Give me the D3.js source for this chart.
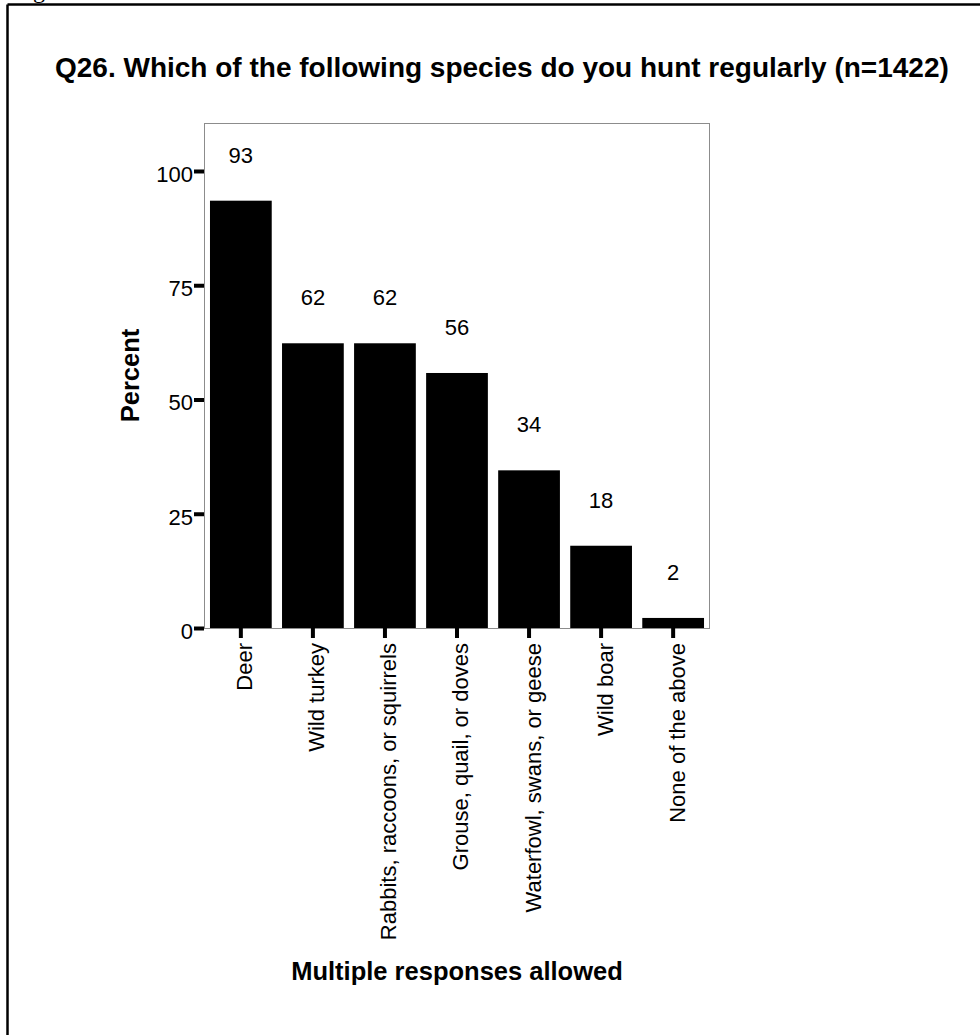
<!DOCTYPE html>
<html>
<head>
<meta charset="utf-8">
<script src="https://cdn.jsdelivr.net/npm/d3@7"></script>
<style>
  html, body { margin: 0; padding: 0; background: #ffffff; }
  svg { display: block; }
  text { font-family: "Liberation Sans", Arial, sans-serif; fill: #000; }
</style>
</head>
<body>
<svg id="chart" width="980" height="1035"></svg>
<script>
// ---- data ----
const categories = [
  "Deer",
  "Wild turkey",
  "Rabbits, raccoons, or squirrels",
  "Grouse, quail, or doves",
  "Waterfowl, swans, or geese",
  "Wild boar",
  "None of the above"
];
const percents = [93.5, 62.3, 62.3, 55.8, 34.5, 18.0, 2.2];
const valueLabels = ["93", "62", "62", "56", "34", "18", "2"];
const yTicks = [0, 25, 50, 75, 100];
const titleText = "Q26. Which of the following species do you hunt regularly (n=1422)";
const yTitle = "Percent";
const xTitle = "Multiple responses allowed";

// ---- layout ----
const svg = d3.select("#chart");
const plot = { left: 204, right: 710, top: 123, bottom: 628 };

const x = d3.scaleBand()
  .domain(categories)
  .range([plot.left, plot.right])
  .paddingInner(0.143)
  .paddingOuter(0.083);

const y = d3.scaleLinear()
  .domain([0, 110.5])
  .range([plot.bottom, plot.top]);

// outer (cropped) frame: only top and left edges visible
svg.append("line").attr("x1", 7.5).attr("x2", 980).attr("y1", 4.5).attr("y2", 4.5)
  .attr("stroke", "#000").attr("stroke-width", 2.5);
svg.append("line").attr("x1", 7.5).attr("x2", 7.5).attr("y1", 4.5).attr("y2", 1035)
  .attr("stroke", "#000").attr("stroke-width", 2.5);

// cropped caption text at top
svg.append("text")
  .attr("x", 13).attr("y", -2)
  .style("font-family", "'Liberation Serif', 'Times New Roman', serif")
  .style("font-size", "24px")
  .text("Figure");

// title
svg.append("text")
  .attr("x", 55).attr("y", 77)
  .style("font-size", "28px").style("font-weight", "bold")
  .text(titleText);

// bars
svg.append("g").selectAll("rect")
  .data(categories)
  .join("rect")
  .attr("x", d => x(d))
  .attr("width", x.bandwidth())
  .attr("y", (d, i) => y(percents[i]))
  .attr("height", (d, i) => y(0) - y(percents[i]))
  .attr("fill", "#000");

// value labels
svg.append("g").selectAll("text")
  .data(categories)
  .join("text")
  .attr("x", d => x(d) + x.bandwidth() / 2)
  .attr("y", (d, i) => y(percents[i]) - 38)
  .attr("text-anchor", "middle")
  .style("font-size", "22px")
  .text((d, i) => valueLabels[i]);

// plot frame
svg.append("rect")
  .attr("x", plot.left + 0.5).attr("y", plot.top + 0.5)
  .attr("width", plot.right - plot.left - 1)
  .attr("height", plot.bottom - plot.top)
  .attr("fill", "none").attr("stroke", "#8c8c8c").attr("stroke-width", 1);

// y axis
const yAxis = d3.axisLeft(y).tickValues(yTicks).tickSize(10).tickPadding(1).tickFormat(d3.format("d"));
const gy = svg.append("g").attr("transform", `translate(${plot.left},0)`).call(yAxis);
gy.select(".domain").remove();
gy.selectAll(".tick line").attr("stroke", "#000").attr("stroke-width", 4);
gy.selectAll(".tick text")
  .attr("dy", "0.47em")
  .style("font-size", "22px")
  .style("font-family", "'Liberation Sans', Arial, sans-serif")
  .attr("fill", "#000");

// x axis
const xAxis = d3.axisBottom(x).tickSize(10).tickSizeOuter(0);
const gx = svg.append("g").attr("transform", `translate(0,${plot.bottom})`).call(xAxis);
gx.select(".domain").remove();
gx.selectAll(".tick line").attr("stroke", "#000").attr("stroke-width", 4);
gx.selectAll(".tick text")
  .attr("transform", "rotate(-90)")
  .attr("text-anchor", "end")
  .attr("x", -15)
  .attr("y", 0)
  .attr("dy", "0.52em")
  .style("font-size", "22px")
  .style("font-family", "'Liberation Sans', Arial, sans-serif")
  .attr("fill", "#000");

// axis titles
svg.append("text")
  .attr("transform", `translate(139,${(plot.top + plot.bottom) / 2}) rotate(-90)`)
  .attr("text-anchor", "middle")
  .style("font-size", "25.5px").style("font-weight", "bold")
  .text(yTitle);

svg.append("text")
  .attr("x", (plot.left + plot.right) / 2).attr("y", 980)
  .attr("text-anchor", "middle")
  .style("font-size", "25.5px").style("font-weight", "bold")
  .text(xTitle);
</script>
</body>
</html>
